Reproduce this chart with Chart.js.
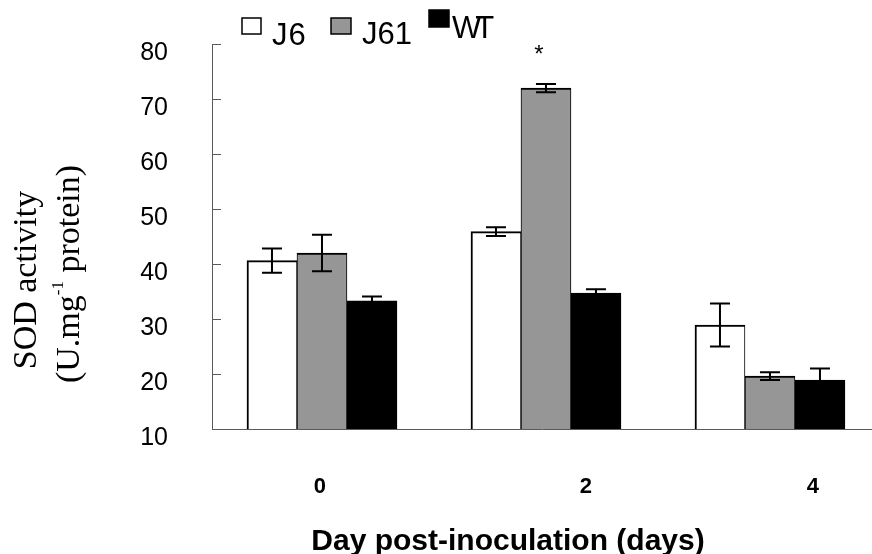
<!DOCTYPE html>
<html>
<head>
<meta charset="utf-8">
<script src="https://cdn.jsdelivr.net/npm/chart.js@4.4.1/dist/chart.umd.min.js"></script>
<style>
html, body { margin: 0; padding: 0; background: #fff; }
#wrap { width: 872px; height: 554px; }
</style>
</head>
<body>
<div id="wrap"><canvas id="sod-chart"></canvas></div>
<script>
// data
const days = [0, 2, 4];
const dayLabels = ['0', '2', '4'];
const seriesNames = ['J6', 'J61', 'WT'];
const j6Values = [40.6, 45.9, 28.9];
const j6Errors = [2.2, 0.8, 3.9];
const j61Values = [42.0, 72.0, 19.6];
const j61Errors = [3.3, 0.75, 0.7];
const wtValues = [33.3, 34.7, 18.9];
const wtErrors = [0.8, 0.7, 2.1];
const yTicks = [10, 20, 30, 40, 50, 60, 70, 80];
const starMarks = [{ day: 2, series: 1, text: '*' }];

const GRAY = '#969696';
const AXIS = '#5a5a5a';

// where the hand-placed bits sit (legend, day labels)
const legendSpots = [
    { box: [242, 18, 19, 16], text: [272, 45], spacing: 1 },
    { box: [331, 18, 20, 16], text: [362, 44], spacing: 0 },
    { box: [429, 10, 20, 17], text: [452, 38], spacing: -6 }
];
const dayLabelShift = [-2, 40, 43];

function points(vals) {
    return days.map((d, i) => ({ x: d, y: vals[i] }));
}

const extras = {
    id: 'extras',
    afterDatasetsDraw(chart) {
        const ctx = chart.ctx;
        const y = chart.scales.y;
        ctx.save();
        // error bars
        ctx.strokeStyle = '#000';
        ctx.lineWidth = 2;
        chart.data.datasets.forEach((ds, i) => {
            chart.getDatasetMeta(i).data.forEach((bar, j) => {
                const v = ds.data[j].y, e = ds.errors[j];
                const top = y.getPixelForValue(v + e);
                const bot = y.getPixelForValue(v - e);
                ctx.beginPath();
                ctx.moveTo(bar.x, top); ctx.lineTo(bar.x, bot);
                ctx.moveTo(bar.x - 10, top); ctx.lineTo(bar.x + 10, top);
                ctx.moveTo(bar.x - 10, bot); ctx.lineTo(bar.x + 10, bot);
                ctx.stroke();
            });
        });
        // significance star
        ctx.fillStyle = '#000';
        ctx.font = '24px "Liberation Sans", Arial, sans-serif';
        ctx.textAlign = 'center';
        ctx.textBaseline = 'alphabetic';
        starMarks.forEach(m => {
            const ds = chart.data.datasets[m.series];
            const j = days.indexOf(m.day);
            const bar = chart.getDatasetMeta(m.series).data[j];
            const top = y.getPixelForValue(ds.data[j].y + ds.errors[j]);
            ctx.fillText(m.text, bar.x - 7, top - 22);
        });
        ctx.restore();
    },
    afterDraw(chart) {
        const ctx = chart.ctx;
        const area = chart.chartArea;
        const x = chart.scales.x, y = chart.scales.y;
        ctx.save();
        // inward tick marks on the y axis
        ctx.strokeStyle = AXIS;
        ctx.lineWidth = 1;
        yTicks.forEach(t => {
            const py = Math.round(y.getPixelForValue(t)) + 0.5;
            ctx.beginPath();
            ctx.moveTo(area.left, py);
            ctx.lineTo(area.left + 9, py);
            ctx.stroke();
        });

        ctx.fillStyle = '#000';
        ctx.textBaseline = 'alphabetic';

        // day labels
        ctx.font = 'bold 22px "Liberation Sans", Arial, sans-serif';
        ctx.textAlign = 'center';
        days.forEach((d, i) => {
            ctx.fillText(dayLabels[i], x.getPixelForValue(d) + dayLabelShift[i], 493);
        });

        // x title
        ctx.font = 'bold 30px "Liberation Sans", Arial, sans-serif';
        ctx.fillText('Day post-inoculation (days)', 508, 550);

        // y title, two lines, serif, rotated
        const serif = '"Liberation Serif", "Times New Roman", serif';
        ctx.save();
        ctx.translate(36, 280);
        ctx.rotate(-Math.PI / 2);
        ctx.font = '34px ' + serif;
        ctx.textAlign = 'center';
        ctx.fillText('SOD activity', 0, 0);
        ctx.restore();

        ctx.save();
        ctx.translate(79, 274);
        ctx.rotate(-Math.PI / 2);
        ctx.textAlign = 'left';
        ctx.font = '34px ' + serif;
        const a = '(U.mg', c = ' protein)';
        const wa = ctx.measureText(a).width, wc = ctx.measureText(c).width;
        ctx.font = '17px ' + serif;
        const wb = ctx.measureText('-1').width;
        let px = -(wa + wb + wc) / 2;
        ctx.font = '34px ' + serif;
        ctx.fillText(a, px, 0);
        px += wa;
        ctx.font = '17px ' + serif;
        ctx.fillText('-1', px, -16);
        px += wb;
        ctx.font = '34px ' + serif;
        ctx.fillText(c, px, 0);
        ctx.restore();

        // legend
        ctx.font = '31px "Liberation Sans", Arial, sans-serif';
        ctx.textAlign = 'left';
        chart.data.datasets.forEach((ds, i) => {
            const s = legendSpots[i];
            ctx.fillStyle = ds.backgroundColor;
            ctx.fillRect(s.box[0], s.box[1], s.box[2], s.box[3]);
            ctx.strokeStyle = '#000';
            ctx.lineWidth = 1.5;
            ctx.strokeRect(s.box[0], s.box[1], s.box[2], s.box[3]);
            ctx.fillStyle = '#000';
            let tx = s.text[0];
            for (const ch of ds.label) {
                ctx.fillText(ch, tx, s.text[1]);
                tx += ctx.measureText(ch).width + s.spacing;
            }
        });
        ctx.restore();
    }
};

const chart = new Chart(document.getElementById('sod-chart'), {
    type: 'bar',
    data: {
        datasets: [{
            label: seriesNames[0],
            data: points(j6Values),
            errors: j6Errors,
            backgroundColor: '#ffffff',
            borderColor: '#000',
            borderWidth: { left: 2, right: 1, top: 2, bottom: 1 },
            borderSkipped: false
        }, {
            label: seriesNames[1],
            data: points(j61Values),
            errors: j61Errors,
            backgroundColor: GRAY,
            borderColor: '#000',
            borderWidth: { left: 1, right: 1, top: 2, bottom: 1 },
            borderSkipped: false
        }, {
            label: seriesNames[2],
            data: points(wtValues),
            errors: wtErrors,
            backgroundColor: '#000000',
            borderColor: '#000',
            borderWidth: 1,
            borderSkipped: false
        }]
    },
    options: {
        responsive: true,
        maintainAspectRatio: false,
        animation: false,
        barThickness: 50,
        layout: { padding: { top: 44, right: 0, bottom: 0, left: 0 } },
        scales: {
            x: {
                type: 'linear',
                offset: false,
                min: -0.982,
                max: 4.911,
                afterBuildTicks: axis => { axis.ticks = days.map(v => ({ value: v })); },
                afterFit: axis => { axis.height = 125; },
                ticks: { display: false },
                grid: { display: false, drawTicks: false, offset: false },
                border: { display: true, color: AXIS, width: 1 }
            },
            y: {
                min: 10,
                max: 80,
                afterBuildTicks: axis => { axis.ticks = yTicks.map(v => ({ value: v })); },
                afterFit: axis => {
                    axis.width = 212;
                    axis.paddingTop = 0;
                    axis.paddingBottom = 0;
                },
                ticks: {
                    color: '#000',
                    padding: 44,
                    labelOffset: 9,
                    font: { family: '"Liberation Sans", Arial, sans-serif', size: 25 }
                },
                grid: { display: false, drawTicks: false, tickLength: 0 },
                border: { display: true, color: AXIS, width: 1 }
            }
        },
        plugins: {
            legend: { display: false },
            tooltip: { enabled: false }
        }
    },
    plugins: [extras]
});
</script>
</body>
</html>
